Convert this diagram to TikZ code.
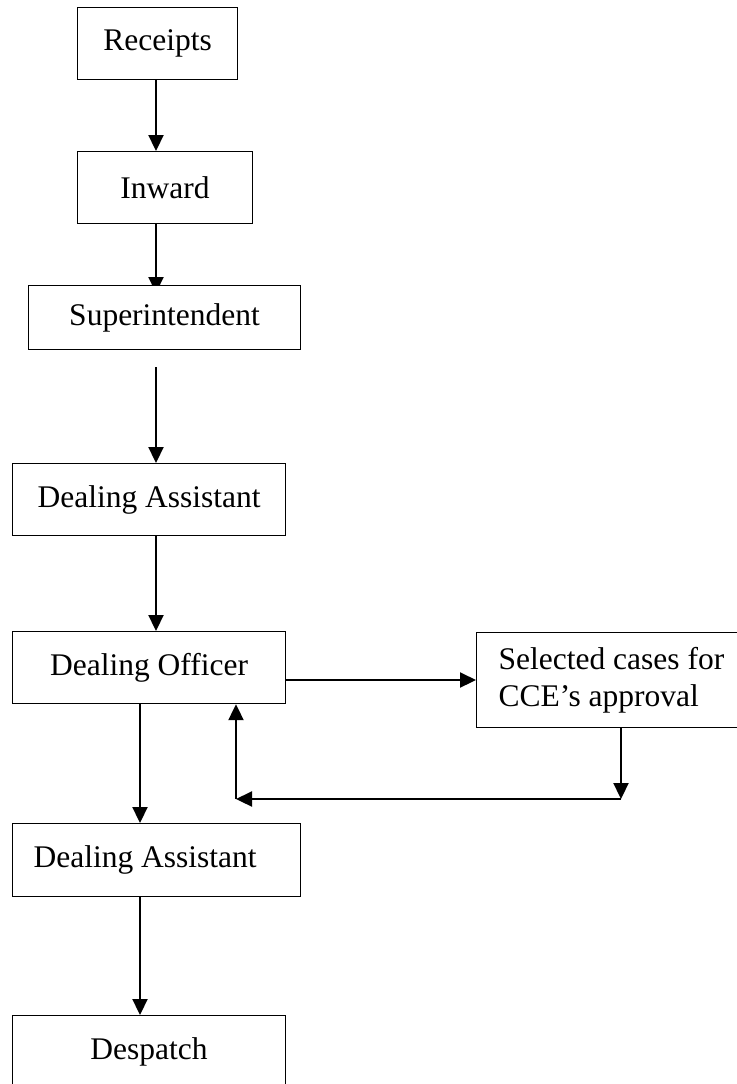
\documentclass[tikz,border=0pt]{standalone}
\usepackage{fontspec}
\setmainfont{Liberation Serif}
\usetikzlibrary{arrows.meta,calc}
\pgfdeclarelayer{back}
\pgfsetlayers{back,main}
\begin{document}
\begin{tikzpicture}[x=0.5pt,y=-0.5pt,
  font=\fontsize{15.75pt}{18.7pt}\selectfont,
  box/.style={draw,line width=0.6pt,fill=white,rectangle,anchor=north west,inner sep=0pt},
  arr/.style={line width=1.1pt,-{Triangle[length=8pt,width=7.5pt]}}]
\useasboundingbox (0,0) rectangle (737,1084);
\clip (0,0) rectangle (737,1084);

% process boxes
\node[box,minimum width=80pt,minimum height=36pt] (rec) at (77,7) {Receipts};
\node[box,minimum width=87.5pt,minimum height=36pt] (inw) at (77,151) {Inward};
\node[box,minimum width=136pt,minimum height=32pt] (sup) at (28,285) {Superintendent};
\node[box,minimum width=136.5pt,minimum height=36pt] (da1) at (12,463) {Dealing Assistant};
\node[box,minimum width=136.5pt,minimum height=36pt] (do) at (12,631) {Dealing Officer};
\node[box,minimum width=140pt,minimum height=47.5pt,align=flush left,
      text width=118pt] (sel) at (476,632) {Selected cases for\\CCE’s approval};
\node[box,minimum width=144pt,minimum height=36.5pt,align=flush left,
      text width=123pt] (da2) at (12,823) {Dealing Assistant};
\node[box,minimum width=136.5pt,minimum height=36pt] (des) at (12,1015) {Despatch};

% column and turning points of the connectors
\coordinate (cA) at (156,0);
\coordinate (cB) at (140,0);
\coordinate (cC) at (621,0);
\coordinate (rowH) at (0,680);
\coordinate (supgap) at (156,367);
\coordinate (kR) at (621,799);
\coordinate (kL) at (236,799);

\begin{pgfonlayer}{back}
\draw[arr,shorten >=-4pt] (cA |- inw.south) -- (cA |- sup.north);
\end{pgfonlayer}

\draw[arr] (cA |- rec.south) -- (cA |- inw.north);
\draw[arr] (supgap) -- (cA |- da1.north);
\draw[arr] (cA |- da1.south) -- (cA |- do.north);
\draw[arr] (do.east |- rowH) -- (sel.west |- rowH);
\draw[arr] (cC |- sel.south) -- (kR);
\draw[arr] (kR) -- (kL);
\draw[arr] (kL) -- (kL |- do.south);
\draw[arr] (cB |- do.south) -- (cB |- da2.north);
\draw[arr] (cB |- da2.south) -- (cB |- des.north);
\end{tikzpicture}
\end{document}
